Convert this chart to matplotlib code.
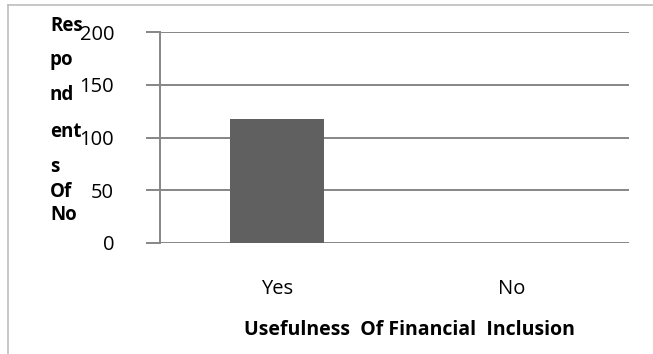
import matplotlib
matplotlib.use("Agg")
import matplotlib.pyplot as plt
from matplotlib.lines import Line2D

categories = ["Yes", "No"]
values = [118, 0]
yticks = [0, 50, 100, 150, 200]
ylabel_lines = ["Res", "po", "nd", "ent", "s", "Of", "No"]
xlabel = "Usefulness  Of Financial  Inclusion"

W, H = 653, 354
fig = plt.figure(figsize=(W / 100, H / 100), dpi=100)
plt.rcParams['font.family'] = ['Open Sans', 'DejaVu Sans']
FS = 14.5

ax = fig.add_axes([160 / W, 1 - 243 / H, (629 - 160) / W, (243 - 32) / H])
grid_c = "#868686"
ax.bar(range(len(categories)), values, width=0.4, color="#606060", zorder=3)
ax.set_xlim(-0.5, 1.5)
ax.set_ylim(0, 200)
ax.set_yticks(yticks)
ax.set_yticklabels([str(v) for v in yticks], fontsize=FS)
ax.set_xticks(range(len(categories)))
ax.set_xticklabels(categories, fontsize=FS)
ax.yaxis.grid(True, color=grid_c, linewidth=1.4, zorder=0)
for s in ["top", "right", "bottom"]:
    ax.spines[s].set_visible(False)
ax.spines["left"].set_color(grid_c)
ax.spines["left"].set_linewidth(1.4)
ax.tick_params(axis="y", length=10, color=grid_c, width=1.4, pad=23)
ax.tick_params(axis="x", length=0, pad=26)
ax.set_xlabel(xlabel, fontsize=14, fontweight="bold")
ax.xaxis.set_label_coords((409 - 160) / 469, -(330 - 243) / 211)
ax.xaxis.label.set_va("center")

baselines = [31, 65, 100, 137, 172, 197, 220]
for t, y in zip(ylabel_lines, baselines):
    fig.text(50 / W, 1 - y / H, t, fontsize=FS - 1, fontweight="bold",
             ha="left", va="baseline")

fig.add_artist(Line2D([8 / W, 1], [1 - 5 / H, 1 - 5 / H], color="#bdbdbd",
                      linewidth=1.2, transform=fig.transFigure))
fig.add_artist(Line2D([8 / W, 8 / W], [0, 1 - 5 / H], color="#bdbdbd",
                      linewidth=1.2, transform=fig.transFigure))

fig.savefig("out.png", dpi=100)
